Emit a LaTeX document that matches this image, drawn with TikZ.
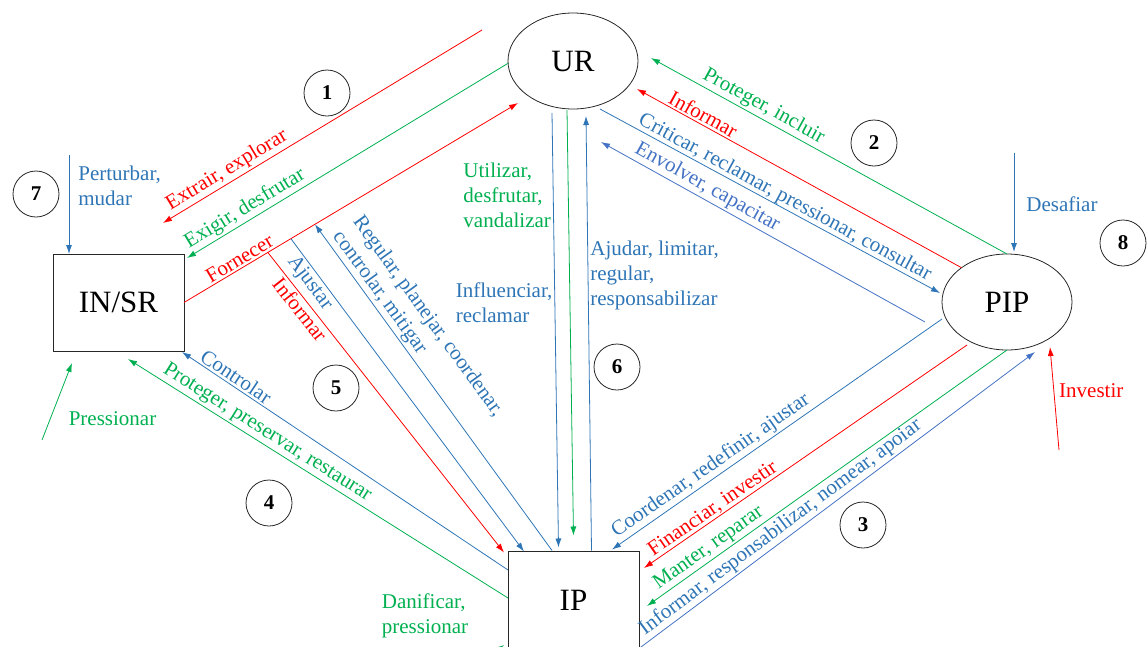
\documentclass[tikz,border=0pt]{standalone}
\usepackage{fontspec}
\setmainfont{Liberation Serif}
\usepackage{xcolor}
\usepackage{tikz}
\usetikzlibrary{calc}
\usetikzlibrary{shapes.geometric}
\usetikzlibrary{positioning}
\usetikzlibrary{arrows.meta}

\definecolor{azul}{RGB}{46,117,182}
\definecolor{verde}{RGB}{0,176,80}
\definecolor{vermelho}{RGB}{255,0,0}
\definecolor{anil}{RGB}{68,114,196}

\begin{document}
\begin{tikzpicture}[
		x=1pt, y=-1pt,
		ator/.style={draw=black!85, ellipse, line width=0.8pt, minimum width=130pt, minimum height=96pt, inner sep=0pt, outer sep=0pt, font=\fontsize{31}{36}\selectfont},
		caixa/.style={draw=black!85, rectangle, line width=0.8pt, minimum width=131pt, minimum height=97pt, inner sep=0pt, outer sep=0pt, font=\fontsize{31}{36}\selectfont},
		num/.style={draw=black!85, circle, line width=0.8pt, minimum size=46pt, inner sep=0pt, font=\fontsize{21}{24}\selectfont\bfseries},
		seta/.style={-{Latex[length=9pt,width=6pt]}, line width=0.8pt},
		rot/.style={font=\fontsize{21}{25}\selectfont, inner sep=2pt}
		]
		\useasboundingbox (0,0) rectangle (1148,646);
		
		% Atores
		\node[ator] (ur) at (573,61) {UR};
		\node[ator] (pip) at (1007,302) {PIP};
		\node[caixa] (insr) at (118.5,302.5) {IN/SR};
		\node[caixa] (ip) at (573.5,600) {IP};
		
		% Numeros das relacoes
		\node[num] (n1) at (327,93) {1};
		\node[num] (n2) at (874,143) {2};
		\node[num] (n3) at (863,525) {3};
		\node[num] (n4) at (269,503) {4};
		\node[num] (n5) at (336,388) {5};
		\node[num] (n6) at (617,367) {6};
		\node[num] (n7) at (36,194) {7};
		\node[num] (n8) at (1123,243) {8};
		
		% 1: UR - IN/SR
		\draw[seta, vermelho] ($(ur.west)+(-26,-31)$) -- node[rot, sloped, above, pos=0.78] {Extrair, explorar} ($(insr.north east)+(-21,-31)$);
		\draw[seta, verde] (ur.182) -- node[rot, sloped, above, pos=0.8] {Exigir, desfrutar} ($(insr.north east)+(3,4)$);
		\draw[seta, vermelho] (insr.east) -- node[rot, sloped, above, pos=0.18] {Fornecer} coordinate[pos=0.251] (f1) coordinate[pos=0.32] (f2) coordinate[pos=0.392] (f3) ($(ur.south)+(-55,-6)$);
		
		% 2: UR - PIP
		\draw[seta, verde] (pip.north) -- node[rot, sloped, above, pos=0.7] {Proteger, incluir} ($(ur.east)+(13,-3)$);
		\draw[seta, vermelho] (pip.143) -- node[rot, sloped, above, pos=0.81] {Informar} ($(ur.east)+(-1,28)$);
		\draw[seta, azul] ($(ur.south)+(27,0)$) -- node[rot, sloped, above, pos=0.53, inner sep=0pt] {Criticar, reclamar, pressionar, consultar} ($(pip.west)+(-2,-9)$);
		\draw[seta, anil] ($(pip.west)+(-17,20)$) -- node[rot, sloped, above, pos=0.69] {Envolver, capacitar} ($(ur.south)+(28,33)$);
		
		% 3: PIP - IP
		\draw[seta, azul] ($(pip.west)+(0,17)$) -- node[rot, sloped, above, pos=0.68] {Coordenar, redefinir, ajustar} ($(ip.north east)+(-27,-2)$);
		\draw[seta, vermelho] ($(pip.south)+(-40,-5)$) -- node[rot, sloped, above, pos=0.77, inner sep=0.5pt] {Financiar, investir} ($(ip.east)+(5,-32)$);
		\draw[seta, verde] (pip.south) -- node[rot, sloped, above, pos=0.81] {Manter, reparar} ($(ip.east)+(8,6)$);
		\draw[seta, anil] (ip.south east) -- node[rot, sloped, above, pos=0.376, text=azul] {Informar, responsabilizar, nomear, apoiar} ($(pip.south)+(28,2)$);
		
		% 4: IP - IN/SR
		\draw[seta, azul] ($(ip.west)+(0,-30)$) -- node[rot, sloped, above, pos=0.85] {Controlar} ($(insr.south east)+(-2,1)$);
		\draw[seta, verde] ($(ip.west)+(0,-2)$) -- node[rot, sloped, above, pos=0.65] {Proteger, preservar, restaurar} ($(insr.south)+(9.5,8)$);
		
		% 5: relacao 1 - IP
		\draw[seta, vermelho] (f1) -- node[rot, sloped, below, pos=0.17] {Informar} ($(ip.north west)+(-4,1)$);
		\draw[seta, azul] (f2) -- node[rot, sloped, below, pos=0.12] {Ajustar} ($(ip.north west)+(16,0)$);
		\draw[seta, azul] ($(ip.north west)+(44,-1)$) -- node[rot, sloped, above, pos=0.65, align=left] {Regular, planejar, coordenar,\\controlar, mitigar} (f3);
		
		% 6: UR - IP
		\draw[seta, azul] ($(ur.south)+(-21,4)$) -- node[rot, left, pos=0.436, align=left] {Influenciar,\\reclamar} ($(ip.north)+(-15,-4)$);
		\draw[seta, verde] ($(ur.south)+(-6,1)$) -- node[rot, left=15pt, pos=0.2, align=left] {Utilizar,\\desfrutar,\\vandalizar} ($(ip.north)+(0,-16)$);
		\draw[seta, azul] ($(ip.north)+(18,-1)$) -- node[rot, right, pos=0.634, align=left] {Ajudar, limitar,\\regular,\\responsabilizar} ($(ur.south)+(13,7)$);
		
		% 7 e 8: pressoes externas
		\draw[seta, azul] ($(insr.north)+(-49.5,-99)$) -- node[rot, right=7pt, pos=0.31, align=left] {Perturbar,\\mudar} ($(insr.north)+(-49.5,0)$);
		\draw[seta, verde] ($(insr.south)+(-76.5,89)$) -- node[rot, right=16pt, pos=0.28] {Pressionar} ($(insr.south)+(-46.5,12)$);
		\draw[seta, azul] ($(pip.north)+(7,-101)$) -- node[rot, right=10pt, pos=0.52] {Desafiar} ($(pip.north)+(7,-2)$);
		\draw[seta, vermelho] ($(pip.south)+(52,100)$) -- node[rot, right=3pt, pos=0.58] {Investir} ($(pip.south)+(43,-3)$);
		
		% Entrada em IP por baixo
		\draw[seta, verde] ($(ip.west)+(-40,70)$) -- ($(ip.west)+(-4,45)$);
		\node[rot, text=verde, align=left] (danif) at ($(ip.west)+(-83,16)$) {Danificar,\\pressionar};
		
	\end{tikzpicture}
\end{document}
